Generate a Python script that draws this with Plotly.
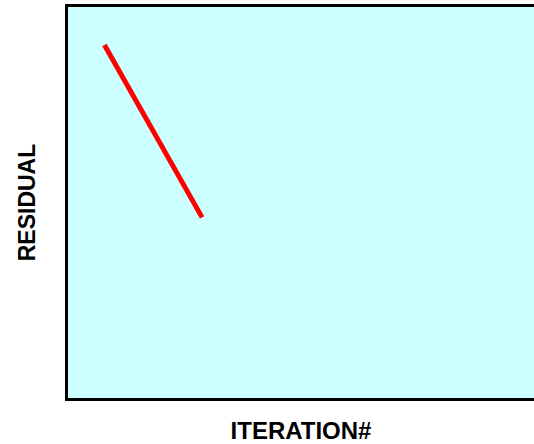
import plotly.graph_objects as go

iterations = [1, 4]
residuals = [0.903, 0.462]

fig = go.Figure()
fig.add_trace(go.Scatter(x=iterations, y=residuals, mode="lines",
                         line=dict(color="#FF0000", width=5), showlegend=False,
                         hoverinfo="skip"))

fig.update_layout(
    template="none",
    width=534, height=444,
    margin=dict(l=68, r=0, t=7, b=46, pad=0),
    paper_bgcolor="white",
    plot_bgcolor="#CCFFFF",
    font=dict(family="Liberation Sans, Arial, sans-serif", color="black"),
)
fig.update_xaxes(range=[-0.12, 14.2], showgrid=False, zeroline=False,
                 showticklabels=False, ticks="", automargin=False,
                 showline=True, linecolor="black", linewidth=3, mirror=True,
                 title=dict(text="<b>ITERATION#</b>", font=dict(size=24), standoff=24))
fig.update_yaxes(range=[0, 1], showgrid=False, zeroline=False,
                 showticklabels=False, ticks="", automargin=False,
                 showline=True, linecolor="black", linewidth=3,
                 title=dict(text="<b>RESIDUAL</b>", font=dict(size=23), standoff=23))

fig.write_html("out.html",
               config={"displayModeBar": False},
               post_script="document.body.style.margin='0';document.body.style.overflow='hidden';")
